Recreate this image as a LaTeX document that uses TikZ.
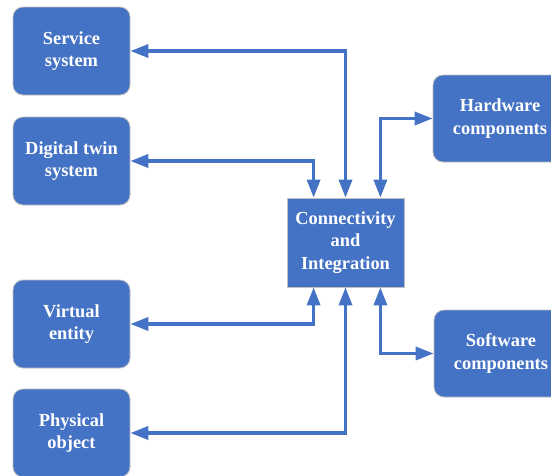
\documentclass[tikz,border=0pt]{standalone}
\usepackage{fontspec}
\setmainfont{Liberation Serif}
\usetikzlibrary{arrows.meta}
\definecolor{boxblue}{HTML}{4472C4}
\definecolor{boxedge}{HTML}{BFBFBF}
\begin{document}
\begin{tikzpicture}[x=1pt,y=-1pt,
  box/.style={fill=boxblue, draw=boxedge, line width=0.8pt, rounded corners=10pt,
    text=white, font=\bfseries\fontsize{18.4}{22.5}\selectfont, align=center,
    inner sep=0pt, minimum width=117pt, minimum height=88pt},
  rbox/.style={box, minimum width=134pt, minimum height=87pt},
  cbox/.style={box, rounded corners=0pt, minimum width=117pt, minimum height=89pt},
  conn/.style={draw=boxblue, line width=3.4pt,
    {Triangle[length=18pt,width=13pt]}-{Triangle[length=18pt,width=13pt]}}]
\useasboundingbox (0,0) rectangle (551,475);
\clip (0,0) rectangle (551,475);
\fill[white] (0,0) rectangle (551,475);
\node[box] (svc) at (71.5,51) {Service\\system};
\node[box] (dt) at (71.5,161) {Digital twin\\system};
\node[box] (ve) at (71.5,324) {Virtual\\entity};
\node[box] (po) at (71.5,433) {Physical\\object};
\node[cbox] (ci) at (345.5,242.5) {Connectivity\\and\\Integration};
\node[rbox] (hw) at (500,118.5) {Hardware\\components};
\node[rbox] (sw) at (501,353.5) {Software\\components};
\draw[conn] (svc.east) -| (ci.north);
\draw[conn] (dt.east) -| ([xshift=27pt]ci.north west);
\draw[conn] (hw.west) -| ([xshift=-24pt]ci.north east);
\draw[conn] (ve.east) -| ([xshift=27pt]ci.south west);
\draw[conn] (po.east) -| (ci.south);
\draw[conn] (sw.west) -| ([xshift=-24pt]ci.south east);
\end{tikzpicture}
\end{document}
